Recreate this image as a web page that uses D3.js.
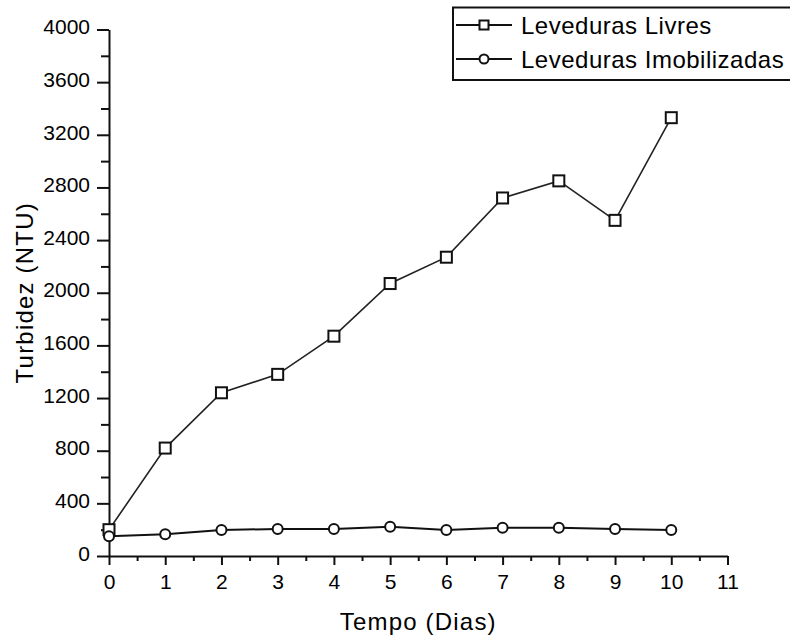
<!DOCTYPE html>
<html>
<head>
<meta charset="utf-8">
<script src="https://cdn.jsdelivr.net/npm/d3@7"></script>
<style>
  html, body { margin: 0; padding: 0; background: #fff; }
  svg { display: block; }
  text { font-family: "Liberation Sans", Arial, sans-serif; fill: #000; }
</style>
</head>
<body>
<svg id="chart" width="790" height="637"></svg>
<script>
// Turbidity over time for free vs immobilised yeast
const dias = [0, 1, 2, 3, 4, 5, 6, 7, 8, 9, 10];
const levedurasLivres = [200, 820, 1240, 1380, 1670, 2070, 2270, 2720, 2850, 2550, 3330];
const levedurasImobilizadas = [150, 165, 198, 205, 205, 223, 198, 215, 215, 205, 198];
const seriesNames = ["Leveduras Livres", "Leveduras Imobilizadas"];
const xTicks = [0, 1, 2, 3, 4, 5, 6, 7, 8, 9, 10, 11];
const xMinorTicks = d3.range(0.5, 11, 1);
const yTicks = [0, 400, 800, 1200, 1600, 2000, 2400, 2800, 3200, 3600, 4000];
const yMinorTicks = d3.range(200, 4000, 400);
const xTitle = "Tempo (Dias)";
const yTitle = "Turbidez (NTU)";

const svg = d3.select("#chart");
const x = d3.scaleLinear().domain([0, 11]).range([109, 727.5]);
const y = d3.scaleLinear().domain([0, 4000]).range([556, 29.5]);

// Minor ticks (drawn first, under the axes)
const xMinor = svg.append("g").attr("transform", `translate(0,${y(0)})`)
  .call(d3.axisBottom(x).tickValues(xMinorTicks).tickSize(5).tickFormat(""));
const yMinor = svg.append("g").attr("transform", `translate(${x(0)},0)`)
  .call(d3.axisLeft(y).tickValues(yMinorTicks).tickSize(8).tickFormat(""));
[xMinor, yMinor].forEach(g => {
  g.select(".domain").remove();
  g.selectAll(".tick line").attr("stroke", "#111").attr("stroke-width", 2);
});

// Major axes
const xAxis = svg.append("g").attr("transform", `translate(0,${y(0)})`)
  .call(d3.axisBottom(x).tickValues(xTicks).tickSize(9).tickSizeOuter(0).tickPadding(9).tickFormat(d3.format("d")));
const yAxis = svg.append("g").attr("transform", `translate(${x(0)},0)`)
  .call(d3.axisLeft(y).tickValues(yTicks).tickSize(12).tickSizeOuter(0).tickPadding(7).tickFormat(d3.format("d")));
[xAxis, yAxis].forEach(g => {
  g.select(".domain").attr("stroke", "#111").attr("stroke-width", 2);
  g.selectAll(".tick line").attr("stroke", "#111").attr("stroke-width", 2);
  g.selectAll(".tick text")
    .attr("fill", "#000")
    .style("font-family", '"Liberation Sans", Arial, sans-serif')
    .style("font-size", "21px");
});
yAxis.selectAll(".tick text").attr("dy", "0.2em");

// Axis titles
svg.append("text")
  .attr("x", (x(0) + x(11)) / 2)
  .attr("y", 630)
  .attr("text-anchor", "middle")
  .style("font-size", "24px")
  .style("letter-spacing", "1.2px")
  .text(xTitle);
svg.append("text")
  .attr("transform", `translate(33,${(y(0) + y(4000)) / 2}) rotate(-90)`)
  .attr("text-anchor", "middle")
  .style("font-size", "24px")
  .style("letter-spacing", "1.2px")
  .text(yTitle);

// Series lines
const line = d3.line().x((d, i) => x(dias[i])).y(d => y(d));
svg.append("path").datum(levedurasLivres)
  .attr("fill", "none").attr("stroke", "#222").attr("stroke-width", 1.6)
  .attr("d", line);
svg.append("path").datum(levedurasImobilizadas)
  .attr("fill", "none").attr("stroke", "#111").attr("stroke-width", 2)
  .attr("d", line);

// Markers
const sq = 11;
svg.append("g").selectAll("rect").data(levedurasLivres).join("rect")
  .attr("x", (d, i) => x(dias[i]) - sq / 2)
  .attr("y", d => y(d) - sq / 2)
  .attr("width", sq).attr("height", sq)
  .attr("fill", "#fff").attr("stroke", "#111").attr("stroke-width", 2);
svg.append("g").selectAll("circle").data(levedurasImobilizadas).join("circle")
  .attr("cx", (d, i) => x(dias[i]))
  .attr("cy", d => y(d))
  .attr("r", 5)
  .attr("fill", "#fff").attr("stroke", "#111").attr("stroke-width", 2);

// Legend
const legend = svg.append("g");
legend.append("rect")
  .attr("x", 453).attr("y", 7.5).attr("width", 345).attr("height", 72.5)
  .attr("fill", "#fff").attr("stroke", "#111").attr("stroke-width", 2);
const rows = [25, 59];
seriesNames.forEach((name, i) => {
  const cy = rows[i];
  legend.append("line")
    .attr("x1", 456).attr("x2", 512).attr("y1", cy).attr("y2", cy)
    .attr("stroke", "#111").attr("stroke-width", 2);
  if (i === 0) {
    legend.append("rect")
      .attr("x", 484 - 4.5).attr("y", cy - 4.5).attr("width", 9).attr("height", 9)
      .attr("fill", "#fff").attr("stroke", "#111").attr("stroke-width", 2);
  } else {
    legend.append("circle")
      .attr("cx", 484).attr("cy", cy).attr("r", 4.5)
      .attr("fill", "#fff").attr("stroke", "#111").attr("stroke-width", 2);
  }
  legend.append("text")
    .attr("x", 521).attr("y", cy + 9)
    .style("font-size", "24px")
    .style("letter-spacing", "0.5px")
    .text(name);
});
</script>
</body>
</html>
